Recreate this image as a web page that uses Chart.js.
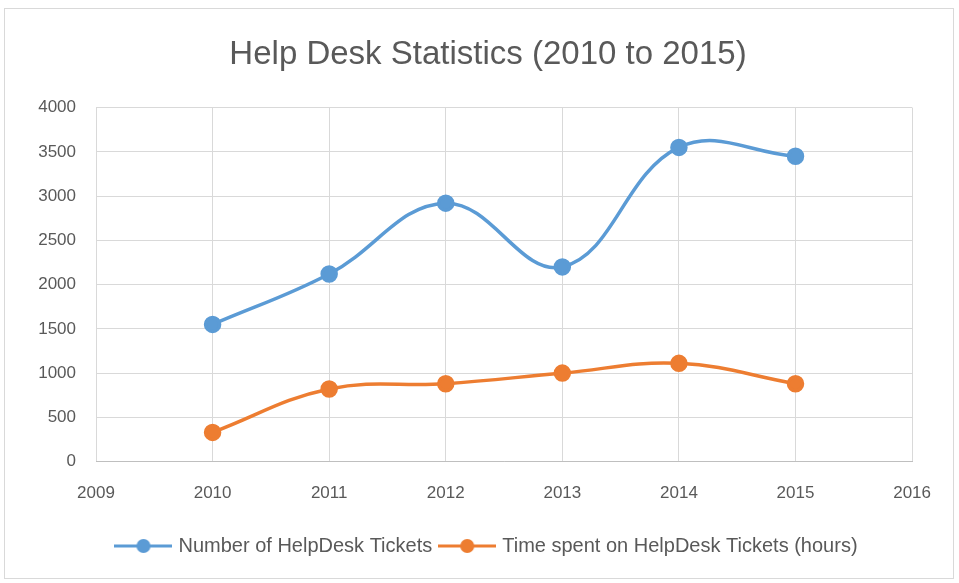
<!DOCTYPE html>
<html lang="en">
<head>
<meta charset="UTF-8">
<title>Help Desk Statistics</title>
<style>
  html, body { margin: 0; padding: 0; background: #fff; }
  .frame { position: absolute; left: 4px; top: 8px; width: 950px; height: 571px; border: 1px solid #d9d9d9; box-sizing: border-box; }
  canvas { display: block; }
</style>
</head>
<body>
<div class="frame"><canvas id="grafico"></canvas></div>
<script src="https://cdn.jsdelivr.net/npm/chart.js"></script>
<script>
  // anos e valores
  var anos = [2010, 2011, 2012, 2013, 2014, 2015];
  var tickets = [1550, 2120, 2920, 2200, 3550, 3450];
  var horas = [330, 820, 880, 1000, 1110, 880];
  var nomes = ['Number of HelpDesk Tickets', 'Time spent on HelpDesk Tickets (hours)'];
  var cores = ['#5b9bd5', '#ed7d31'];

  var fonte = "'Liberation Sans', sans-serif";

  function pontos(valores) {
    return anos.map(function (a, i) { return { x: a, y: valores[i] }; });
  }

  // icone da legenda: linha com bolinha
  function iconeLegenda(cor) {
    var c = document.createElement('canvas');
    c.width = 58; c.height = 16;
    var g = c.getContext('2d');
    g.strokeStyle = cor; g.lineWidth = 3;
    g.beginPath(); g.moveTo(0, 8); g.lineTo(58, 8); g.stroke();
    g.fillStyle = cor;
    g.beginPath(); g.arc(29, 8, 7, 0, Math.PI * 2); g.fill();
    return c;
  }

  var series = [tickets, horas];
  var datasets = series.map(function (s, i) {
    return {
      label: nomes[i],
      data: pontos(s),
      borderColor: cores[i],
      backgroundColor: cores[i],
      borderWidth: 3.5,
      pointRadius: 7,
      pointHoverRadius: 7,
      tension: 0.4,
      fill: false
    };
  });

  new Chart(document.getElementById('grafico'), {
    type: 'line',
    data: { datasets: datasets },
    options: {
      responsive: true,
      maintainAspectRatio: false,
      animation: false,
      layout: { padding: { left: 31, right: 13, top: 0, bottom: 12 } },
      plugins: {
        title: {
          display: true,
          text: 'Help Desk Statistics (2010 to 2015)',
          color: '#595959',
          font: { family: fonte, size: 33, weight: 'normal' },
          padding: { top: 26, bottom: 33 }
        },
        legend: {
          position: 'bottom',
          labels: {
            color: '#595959',
            font: { family: fonte, size: 20 },
            usePointStyle: true,
            pointStyleWidth: 50,
            padding: 10,
            generateLabels: function (chart) {
              return chart.data.datasets.map(function (d, i) {
                return {
                  text: d.label,
                  fontColor: '#595959',
                  pointStyle: iconeLegenda(cores[i]),
                  strokeStyle: cores[i],
                  fillStyle: cores[i],
                  lineWidth: 0,
                  datasetIndex: i
                };
              });
            }
          }
        },
        tooltip: { enabled: false }
      },
      scales: {
        x: {
          type: 'linear',
          min: 2009,
          max: 2016,
          ticks: {
            stepSize: 1,
            color: '#595959',
            font: { family: fonte, size: 17 },
            padding: 22,
            callback: function (v) { return String(v); }
          },
          grid: { color: '#d9d9d9', drawTicks: false },
          border: { display: true, color: '#bfbfbf' }
        },
        y: {
          min: 0,
          max: 4000,
          afterFit: function (escala) { escala.width = 60; },
          ticks: {
            stepSize: 500,
            color: '#595959',
            font: { family: fonte, size: 17 },
            padding: 20,
            callback: function (v) { return String(v); }
          },
          grid: { color: '#d9d9d9', drawTicks: false },
          border: { display: false }
        },
        // eixo vazio a direita, so para reservar espaco
        y2: {
          position: 'right',
          min: 0,
          max: 4000,
          afterFit: function (escala) { escala.width = 19; },
          ticks: { display: false },
          grid: { display: false, drawTicks: false },
          border: { display: false }
        }
      }
    }
  });
</script>
</body>
</html>
